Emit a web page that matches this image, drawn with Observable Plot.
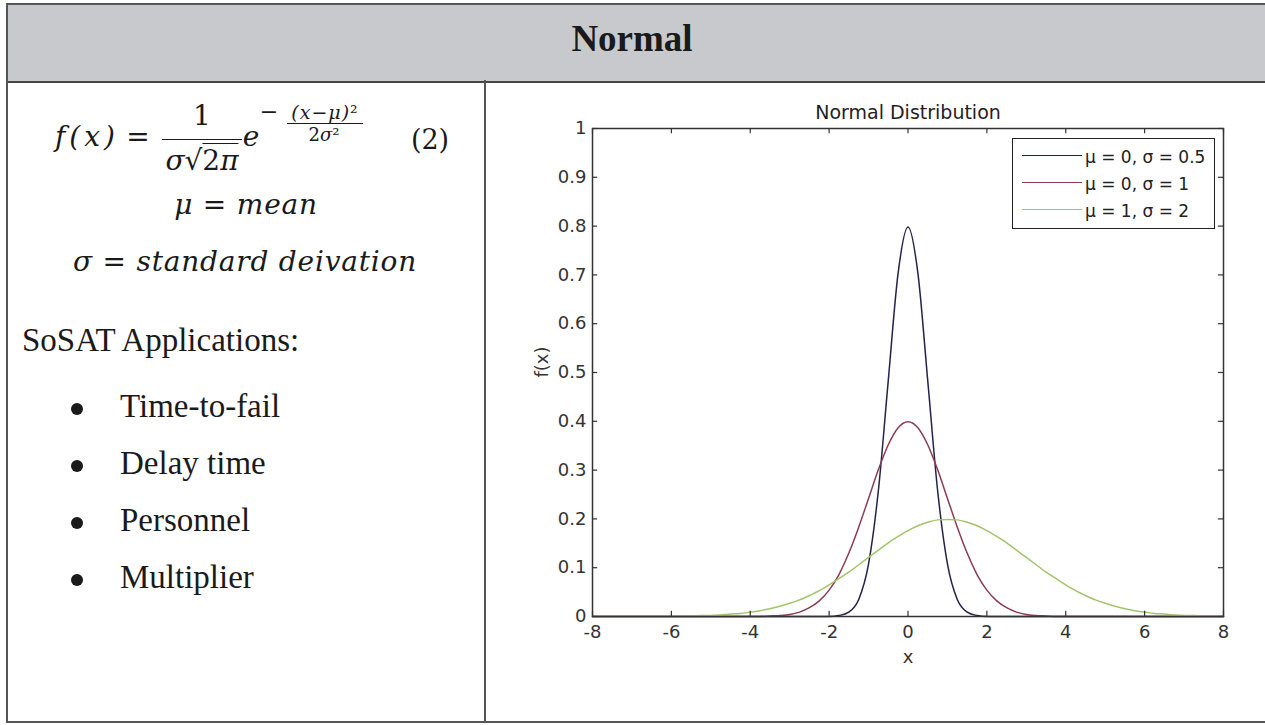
<!DOCTYPE html>
<html><head><meta charset="utf-8">
<script src="https://cdn.jsdelivr.net/npm/d3@7"></script>
<script src="https://cdn.jsdelivr.net/npm/@observablehq/plot@0.6"></script>
<style>
body{margin:0;background:#fff;}
#page{position:relative;width:1265px;height:725px;overflow:hidden;background:#fff;}
.abs{position:absolute;white-space:nowrap;line-height:1;}
.m{font-family:"DejaVu Serif",serif;font-style:italic;color:#1a1a1a;}
.u{font-style:normal;}
.t{font-family:"Liberation Serif","Times New Roman",serif;color:#1a1a1a;}
.line{position:absolute;height:0;border-top:1.5px solid #1a1a1a;}
#legend{position:absolute;left:1012px;top:138px;width:203px;height:91px;box-sizing:border-box;border:1.5px solid #222;background:#fff;font-family:"DejaVu Sans",sans-serif;font-size:17px;color:#222;}
#legend .row{position:absolute;left:0;white-space:nowrap;line-height:1;}
#legend .sw{position:absolute;left:9px;width:60px;height:0;}
#legend .lb{position:absolute;left:72px;}
</style></head><body><div id="page">
<div class="abs" style="left:6px;top:3px;width:1259px;height:76px;background:#c7c9cc;border-top:2px solid #555;border-bottom:2.5px solid #444;border-left:2px solid #555;"></div>
<div class="abs" style="left:6px;top:80px;width:0;height:642px;border-left:2px solid #555;"></div>
<div class="abs" style="left:484px;top:80px;width:0;height:642px;border-left:2px solid #555;"></div>
<div class="abs" style="left:6px;top:721px;width:1259px;height:0;border-top:2px solid #555;"></div>
<div id="chart" class="abs" style="left:486px;top:82px;"></div>
<div id="legend"></div>
</div>
<script>
// ---- data ----
const seriesNames = ["μ = 0, σ = 0.5", "μ = 0, σ = 1", "μ = 1, σ = 2"];
const seriesColors = ["#22224a", "#8a3c50", "#a2c46a"];
const xs = [-8,-7.75,-7.5,-7.25,-7,-6.75,-6.5,-6.25,-6,-5.75,-5.5,-5.25,-5,-4.75,-4.5,-4.25,-4,-3.75,-3.5,-3.25,-3,-2.75,-2.5,-2.25,-2,-1.75,-1.5,-1.25,-1,-0.75,-0.5,-0.25,0,0.25,0.5,0.75,1,1.25,1.5,1.75,2,2.25,2.5,2.75,3,3.25,3.5,3.75,4,4.25,4.5,4.75,5,5.25,5.5,5.75,6,6.25,6.5,6.75,7,7.25,7.5,7.75,8];
const fSigmaHalf = [0,0,0,0,0, 0,0,0,0,0, 0,0,0,0,0, 0,0,0,0,0, 0,0,0,0,0,
  0.002,0.009,0.035,0.108,0.259,0.484,0.704,0.798,0.704,0.484,0.259,0.108,0.035,0.009,0.002,
  0,0,0,0,0, 0,0,0,0,0, 0,0,0,0,0, 0,0,0,0,0, 0,0,0,0,0];
const fSigmaOne = [0,0,0,0,0,0, 0,0,0,0,0,0, 0,0,0,0,0,0,
  0.001,0.002,0.004,0.009,0.018,0.032,0.054,0.086,0.130,0.183,0.242,0.301,0.352,0.387,0.399,
  0.387,0.352,0.301,0.242,0.183,0.130,0.086,0.054,0.032,0.018,0.009,0.004,0.002,0.001,
  0,0,0,0,0,0, 0,0,0,0,0,0, 0,0,0,0,0,0];
const fSigmaTwo = [0,0,0,0,0,0,0,0,
  0.000,0.001,0.001,0.002,0.002,0.003,0.005,0.006,0.009,0.012,0.016,0.021,0.027,0.034,0.043,0.053,
  0.065,0.078,0.091,0.106,0.121,0.136,0.151,0.164,0.176,0.186,0.193,0.198,0.199,0.198,0.193,0.186,
  0.176,0.164,0.151,0.136,0.121,0.106,0.091,0.078,0.065,0.053,0.043,0.034,0.027,0.021,0.016,0.012,
  0.009,0.006,0.005,0.003,0.002,0.002,0.001,0.001,0.000];
const xTicks = [-8,-6,-4,-2,0,2,4,6,8];
const yTicks = [0,0.1,0.2,0.3,0.4,0.5,0.6,0.7,0.8,0.9,1];
const appItems = ["Time-to-fail", "Delay time", "Personnel", "Multiplier"];

const allSeries = [fSigmaHalf, fSigmaOne, fSigmaTwo];
allSeries.forEach((s, k) => { if (s.length !== xs.length) throw new Error("length mismatch " + k + ": " + s.length); });

// ---- left cell text ----
const page = document.getElementById("page");
function place(html, cls, size, x, baseline, anchor, extra) {
  const d = document.createElement("div");
  d.className = "abs " + cls;
  d.innerHTML = html;
  d.style.fontSize = size + "px";
  d.style.left = x + "px";
  d.style.top = (baseline - 0.84 * size) + "px";
  if (anchor === "center") d.style.transform = "translateX(-50%)";
  if (extra) Object.assign(d.style, extra);
  page.appendChild(d);
  return d;
}
function hline(x1, x2, y) {
  const d = document.createElement("div");
  d.className = "line";
  d.style.left = x1 + "px"; d.style.width = (x2 - x1) + "px"; d.style.top = y + "px";
  page.appendChild(d);
}
place("<b>Normal</b>", "t", 37, 632, 51, "center");
place("f(x)", "m", 28, 55, 147, "left", {letterSpacing: "4px"});
place("=", "m u", 28, 138, 147, "center");
hline(162, 242, 139);
place("1", "m u", 28, 202, 126, "center");
place("σ√<span style='border-top:1.5px solid #1a1a1a'><span class='u'>2</span>π</span>", "m", 28, 202, 171, "center");
place("e", "m", 28, 251, 147, "center");
place("−", "m u", 22, 269, 119, "center");
place("(x−μ)<span class='u'>²</span>", "m", 19, 325, 119, "center", {letterSpacing: "1px"});
hline(287, 363, 123);
place("<span class='u'>2</span>σ<span class='u'>²</span>", "m", 18, 324, 141, "center");
place("(2)", "m u", 27, 430, 149, "center");
place("μ = mean", "m", 28, 246, 215, "center", {letterSpacing: "0.8px"});
place("σ = standard deivation", "m", 28, 245, 272, "center", {letterSpacing: "0.8px"});
place("SoSAT Applications:", "t", 33, 22, 352, "left");
appItems.forEach((t, i) => {
  const b = 418 + i * 57;
  place(t, "t", 33, 120, b, "left");
  const dot = document.createElement("div");
  dot.className = "abs";
  Object.assign(dot.style, {left: "71px", top: (b - 15) + "px", width: "12px", height: "12px", borderRadius: "50%", background: "#1a1a1a"});
  page.appendChild(dot);
});

// ---- chart ----
const rows = allSeries.flatMap((vals, k) => xs.map((x, i) => ({x, y: vals[i], s: seriesNames[k]})));
const chart = Plot.plot({
  width: 776, height: 636,
  marginLeft: 106, marginRight: 39, marginTop: 46, marginBottom: 102,
  x: {domain: [-8, 8]},
  y: {domain: [0, 1]},
  color: {domain: seriesNames, range: seriesColors},
  style: {fontFamily: "'DejaVu Sans', sans-serif", fontSize: "17px", background: "transparent", color: "#333"},
  marks: [
    Plot.line(rows, {x: "x", y: "y", z: "s", stroke: "s", strokeWidth: 1.5, curve: "monotone-x"}),
    Plot.ruleX(xTicks, {x: d => d, y1: 0, y2: 0.011, stroke: "#333", strokeWidth: 1.2}),
    Plot.ruleX(xTicks, {x: d => d, y1: 0.989, y2: 1, stroke: "#333", strokeWidth: 1.2}),
    Plot.ruleY(yTicks, {y: d => d, x1: -8, x2: -7.87, stroke: "#333", strokeWidth: 1.2}),
    Plot.ruleY(yTicks, {y: d => d, x1: 7.87, x2: 8, stroke: "#333", strokeWidth: 1.2}),
    Plot.frame({stroke: "#333", strokeWidth: 1.5}),
    Plot.axisX(xTicks, {tickSize: 0, tickPadding: 9, fontSize: 18, tickFormat: d => String(d), label: null, color: "#333"}),
    Plot.axisY(yTicks, {tickSize: 0, tickPadding: 6, fontSize: 18, tickFormat: d => String(d), label: null, color: "#333"}),
    Plot.text(["Normal Distribution"], {text: d => d, frameAnchor: "top", dy: -23, fontSize: 19, fill: "#222"}),
    Plot.text(["x"], {text: d => d, frameAnchor: "bottom", dy: 46, fontSize: 18, fill: "#333"}),
    Plot.text(["f(x)"], {text: d => d, frameAnchor: "left", dx: -50, dy: 5, rotate: -90, fontSize: 18, fill: "#333"})
  ]
});
document.getElementById("chart").appendChild(chart);

// ---- legend ----
const legend = document.getElementById("legend");
seriesNames.forEach((name, i) => {
  const lineY = 16 + i * 27;
  const sw = document.createElement("div");
  sw.className = "sw";
  sw.style.top = lineY + "px";
  sw.style.borderTop = "1.5px solid " + seriesColors[i];
  legend.appendChild(sw);
  const lb = document.createElement("div");
  lb.className = "row lb";
  lb.textContent = name;
  lb.style.top = (lineY - 6) + "px";
  legend.appendChild(lb);
});
</script>
</body></html>
